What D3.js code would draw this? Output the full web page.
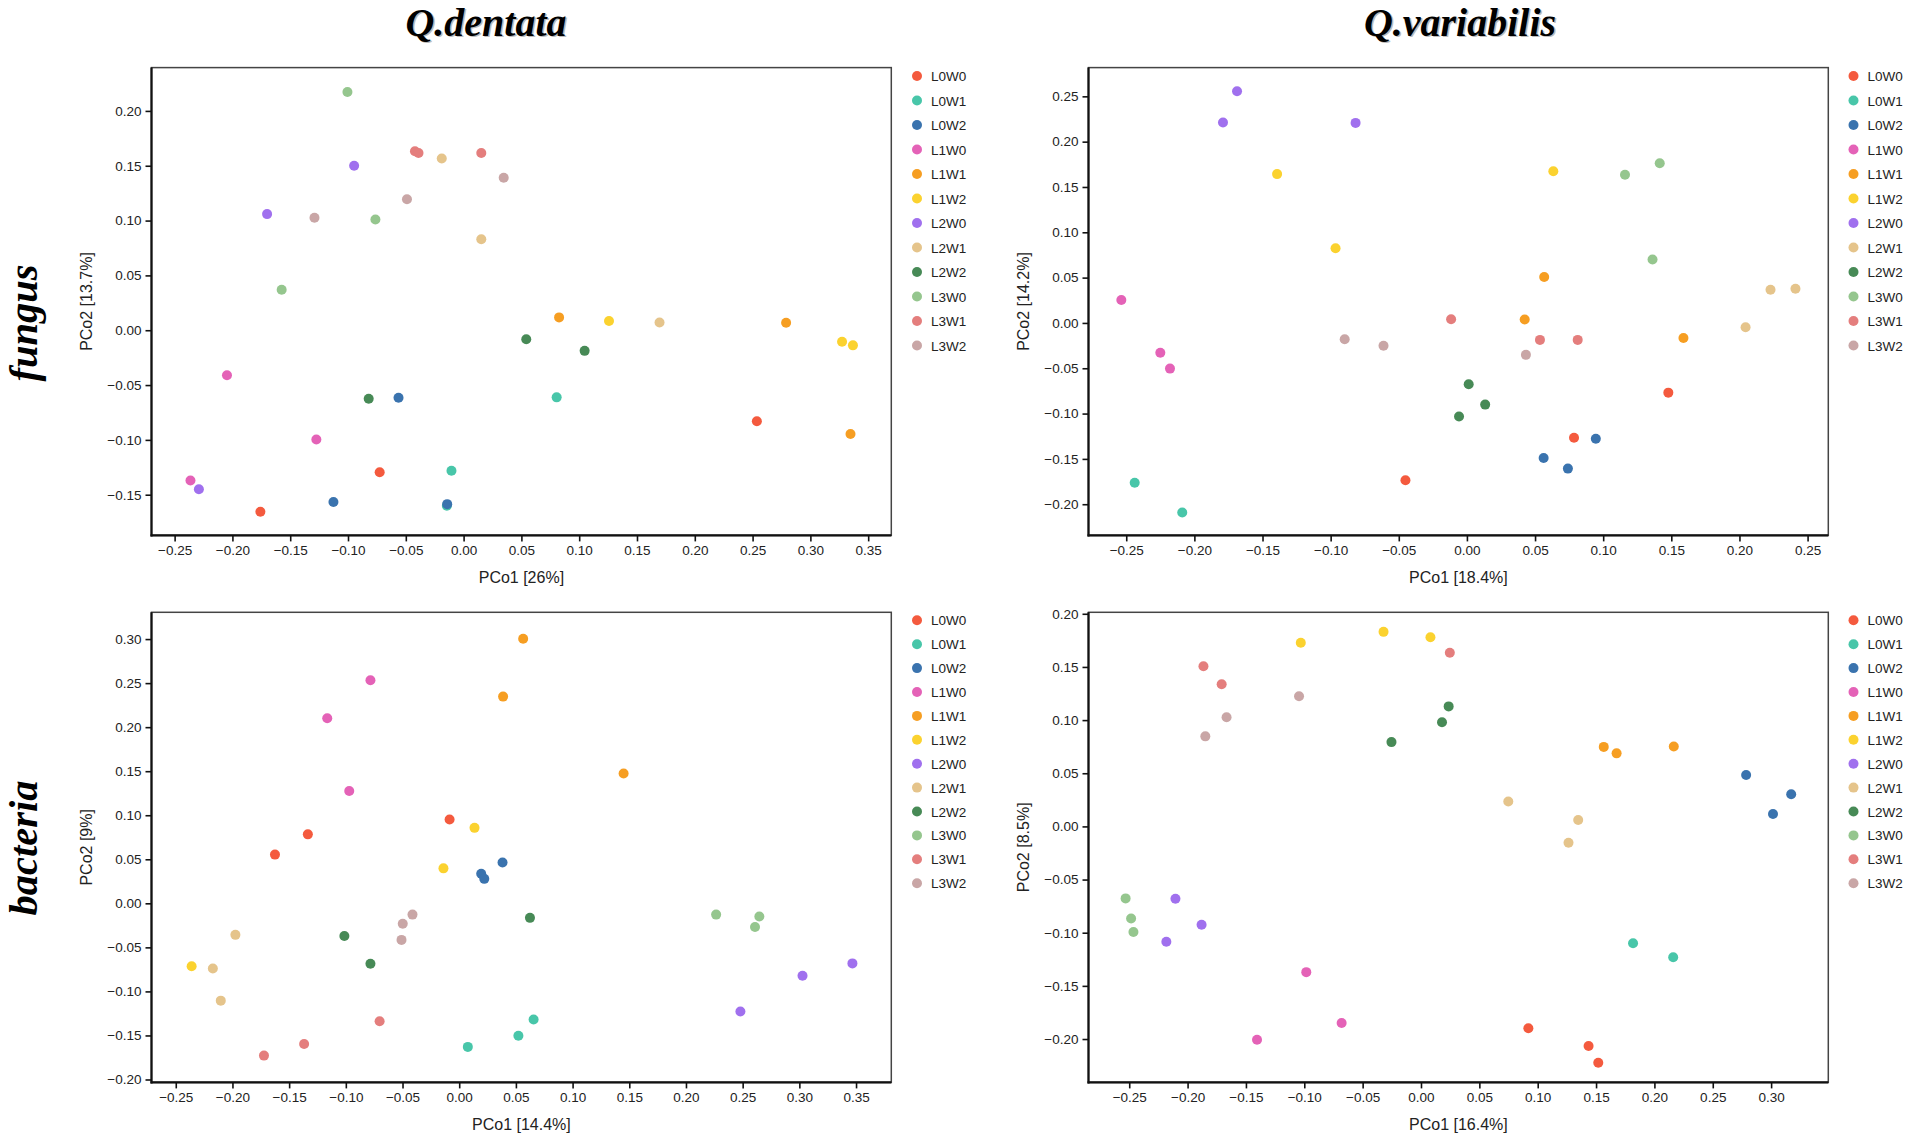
<!DOCTYPE html>
<html>
<head>
<meta charset="utf-8">
<script src="https://cdn.jsdelivr.net/npm/d3@7"></script>
<style>
  html, body { margin: 0; padding: 0; background: #fff; }
  svg { display: block; }
</style>
</head>
<body>
<svg id="chart" width="1908" height="1137"></svg>
<script>
// ---------------- DATA ----------------
const groups = ['L0W0','L0W1','L0W2','L1W0','L1W1','L1W2','L2W0','L2W1','L2W2','L3W0','L3W1','L3W2'];
const groupColors = ['#F45A3E','#48C6A9','#3A73AE','#E462B7','#F69E22','#FBD22F','#A070EE','#E5C48B','#478A56','#95C68E','#E47E7D','#C9A6A6'];

const columnTitles = ['Q.dentata', 'Q.variabilis'];
const rowTitles = ['fungus', 'bacteria'];

// [group, PCo1, PCo2]
const fungusDentata = [
  ['L0W0', 0.2537,-0.0830],['L0W0',-0.0726,-0.1295],['L0W0',-0.1758,-0.1656],
  ['L0W1', 0.0805,-0.0612],['L0W1',-0.0105,-0.1281],['L0W1',-0.0145,-0.1600],
  ['L0W2',-0.0563,-0.0615],['L0W2',-0.1126,-0.1566],['L0W2',-0.0142,-0.1586],
  ['L1W0',-0.2047,-0.0410],['L1W0',-0.1274,-0.0996],['L1W0',-0.2363,-0.1371],
  ['L1W1', 0.0826, 0.0117],['L1W1', 0.2790, 0.0068],['L1W1', 0.3347,-0.0947],
  ['L1W2', 0.1258, 0.0084],['L1W2', 0.3274,-0.0105],['L1W2', 0.3368,-0.0138],
  ['L2W0',-0.0947, 0.1500],['L2W0',-0.1700, 0.1059],['L2W0',-0.2290,-0.1450],
  ['L2W1',-0.0189, 0.1566],['L2W1', 0.0153, 0.0830],['L2W1', 0.1695, 0.0071],
  ['L2W2', 0.0542,-0.0082],['L2W2', 0.1047,-0.0188],['L2W2',-0.0821,-0.0625],
  ['L3W0',-0.1005, 0.2172],['L3W0',-0.0763, 0.1009],['L3W0',-0.1574, 0.0369],
  ['L3W1',-0.0421, 0.1632],['L3W1',-0.0390, 0.1616],['L3W1', 0.0153, 0.1616],
  ['L3W2', 0.0347, 0.1390],['L3W2',-0.0490, 0.1195],['L3W2',-0.1290, 0.1026]
];
const fungusVariabilis = [
  ['L0W0', 0.1478,-0.0769],['L0W0', 0.0786,-0.1266],['L0W0',-0.0451,-0.1735],
  ['L0W1',-0.2438,-0.1763],['L0W1',-0.2089,-0.2092],
  ['L0W2', 0.0946,-0.1278],['L0W2', 0.0563,-0.1491],['L0W2', 0.0741,-0.1607],
  ['L1W0',-0.2536, 0.0254],['L1W0',-0.2250,-0.0328],['L1W0',-0.2179,-0.0504],
  ['L1W1', 0.0567, 0.0507],['L1W1', 0.0424, 0.0037],['L1W1', 0.1589,-0.0167],
  ['L1W2',-0.1393, 0.1642],['L1W2', 0.0634, 0.1674],['L1W2',-0.0964, 0.0823],
  ['L2W0',-0.1687, 0.2556],['L2W0',-0.1790, 0.2211],['L2W0',-0.0817, 0.2207],
  ['L2W1', 0.2228, 0.0366],['L2W1', 0.2411, 0.0378],['L2W1', 0.2045,-0.0047],
  ['L2W2', 0.0013,-0.0677],['L2W2', 0.0134,-0.0901],['L2W2',-0.0058,-0.1033],
  ['L3W0', 0.1415, 0.1762],['L3W0', 0.1160, 0.1634],['L3W0', 0.1362, 0.0700],
  ['L3W1',-0.0116, 0.0041],['L3W1', 0.0536,-0.0187],['L3W1', 0.0813,-0.0187],
  ['L3W2',-0.0897,-0.0179],['L3W2',-0.0612,-0.0251],['L3W2', 0.0433,-0.0352]
];
const bacteriaDentata = [
  ['L0W0',-0.0085, 0.0952],['L0W0',-0.1335, 0.0783],['L0W0',-0.1625, 0.0553],
  ['L0W1', 0.0656,-0.1319],['L0W1', 0.0522,-0.1503],['L0W1', 0.0076,-0.1630],
  ['L0W2', 0.0382, 0.0463],['L0W2', 0.0194, 0.0336],['L0W2', 0.0221, 0.0278],
  ['L1W0',-0.0783, 0.2532],['L1W0',-0.1164, 0.2101],['L1W0',-0.0970, 0.1276],
  ['L1W1', 0.0564, 0.3004],['L1W1', 0.0387, 0.2347],['L1W1', 0.1450, 0.1473],
  ['L1W2', 0.0135, 0.0857],['L1W2',-0.0139, 0.0397],['L1W2',-0.2360,-0.0715],
  ['L2W0', 0.3468,-0.0682],['L2W0', 0.3028,-0.0822],['L2W0', 0.2480,-0.1228],
  ['L2W1',-0.1974,-0.0358],['L2W1',-0.2173,-0.0740],['L2W1',-0.2103,-0.1105],
  ['L2W2', 0.0624,-0.0165],['L2W2',-0.1013,-0.0370],['L2W2',-0.0783,-0.0686],
  ['L3W0', 0.2266,-0.0128],['L3W0', 0.2647,-0.0149],['L3W0', 0.2609,-0.0268],
  ['L3W1',-0.0702,-0.1339],['L3W1',-0.1368,-0.1598],['L3W1',-0.1722,-0.1729],
  ['L3W2',-0.0412,-0.0128],['L3W2',-0.0498,-0.0231],['L3W2',-0.0509,-0.0415]
];
const bacteriaVariabilis = [
  ['L0W0', 0.0920,-0.1898],['L0W0', 0.1436,-0.2065],['L0W0', 0.1519,-0.2224],
  ['L0W1', 0.1817,-0.1099],['L0W1', 0.2161,-0.1231],
  ['L0W2', 0.2786, 0.0483],['L0W2', 0.3172, 0.0303],['L0W2', 0.3016, 0.0116],
  ['L1W0',-0.0983,-0.1371],['L1W0',-0.0680,-0.1850],['L1W0',-0.1405,-0.2007],
  ['L1W1', 0.1566, 0.0748],['L1W1', 0.1676, 0.0687],['L1W1', 0.2166, 0.0752],
  ['L1W2',-0.0321, 0.1830],['L1W2', 0.0081, 0.1779],['L1W2',-0.1030, 0.1728],
  ['L2W0',-0.2104,-0.0680],['L2W0',-0.1880,-0.0925],['L2W0',-0.2182,-0.1085],
  ['L2W1', 0.0748, 0.0235],['L2W1', 0.1347, 0.0061],['L2W1', 0.1264,-0.0153],
  ['L2W2', 0.0237, 0.1129],['L2W2', 0.0180, 0.0980],['L2W2',-0.0253, 0.0793],
  ['L3W0',-0.2531,-0.0677],['L3W0',-0.2484,-0.0867],['L3W0',-0.2464,-0.0993],
  ['L3W1', 0.0247, 0.1633],['L3W1',-0.1864, 0.1507],['L3W1',-0.1708, 0.1337],
  ['L3W2',-0.1045, 0.1224],['L3W2',-0.1666, 0.1027],['L3W2',-0.1848, 0.0847]
];

const xAxisTitles = ['PCo1 [26%]', 'PCo1 [18.4%]', 'PCo1 [14.4%]', 'PCo1 [16.4%]'];
const yAxisTitles = ['PCo2 [13.7%]', 'PCo2 [14.2%]', 'PCo2 [9%]', 'PCo2 [8.5%]'];
// tick values (in hundredths)
const xTicksFD = [-25,-20,-15,-10,-5,0,5,10,15,20,25,30,35];
const yTicksFD = [-15,-10,-5,0,5,10,15,20];
const xTicksFV = [-25,-20,-15,-10,-5,0,5,10,15,20,25];
const yTicksFV = [-20,-15,-10,-5,0,5,10,15,20,25];
const xTicksBD = [-25,-20,-15,-10,-5,0,5,10,15,20,25,30,35];
const yTicksBD = [-20,-15,-10,-5,0,5,10,15,20,25,30];
const xTicksBV = [-25,-20,-15,-10,-5,0,5,10,15,20,25,30];
const yTicksBV = [-20,-15,-10,-5,0,5,10,15,20];

// ---------------- LAYOUT ----------------
const panels = [
  {data: fungusDentata, xT: xTicksFD, yT: yTicksFD, xTitle: xAxisTitles[0], yTitle: yAxisTitles[0],
   left: 151.5, right: 891.3, top: 67.6, bottom: 535.4, xDom: [-0.2700, 0.3700], yDom: [-0.1871, 0.2395],
   legX: 917, legY: 76, legStep: 24.5},
  {data: fungusVariabilis, xT: xTicksFV, yT: yTicksFV, xTitle: xAxisTitles[1], yTitle: yAxisTitles[1],
   left: 1088.5, right: 1828.3, top: 67.6, bottom: 535.4, xDom: [-0.2777, 0.2652], yDom: [-0.2344, 0.2817],
   legX: 1853.5, legY: 76, legStep: 24.5},
  {data: bacteriaDentata, xT: xTicksBD, yT: yTicksBD, xTitle: xAxisTitles[2], yTitle: yAxisTitles[2],
   left: 151.5, right: 891.3, top: 612.3, bottom: 1082.4, xDom: [-0.2714, 0.3811], yDom: [-0.2033, 0.3304],
   legX: 917, legY: 620.3, legStep: 23.9},
  {data: bacteriaVariabilis, xT: xTicksBV, yT: yTicksBV, xTitle: xAxisTitles[3], yTitle: yAxisTitles[3],
   left: 1088.5, right: 1828.3, top: 612.3, bottom: 1082.4, xDom: [-0.2849, 0.3490], yDom: [-0.2408, 0.2014],
   legX: 1853.5, legY: 620.3, legStep: 23.9}
];

const sans = "'Liberation Sans', Arial, Helvetica, sans-serif";
const serif = "'Liberation Serif', 'Times New Roman', serif";
const color = d3.scaleOrdinal().domain(groups).range(groupColors);
const fmt = d3.format('.2f');

const svg = d3.select('#chart');

// column titles (with soft shadow)
const colTitlePos = [[486, 35.5], [1460, 35.5]];
columnTitles.forEach((t, i) => {
  [['#bbb', 1.5, 1.5], ['#000', 0, 0]].forEach(([c, dx, dy]) => {
    svg.append('text').attr('x', colTitlePos[i][0] + dx).attr('y', colTitlePos[i][1] + dy)
      .attr('text-anchor', 'middle').attr('font-family', serif).attr('font-weight', 'bold')
      .attr('font-style', 'italic').attr('font-size', 40).attr('fill', c).text(t);
  });
});

// row titles
const rowTitlePos = [[37, 323], [37, 848]];
rowTitles.forEach((t, i) => {
  svg.append('text').attr('transform', `translate(${rowTitlePos[i][0]},${rowTitlePos[i][1]}) rotate(-90)`)
    .attr('text-anchor', 'middle').attr('font-family', serif).attr('font-weight', 'bold')
    .attr('font-style', 'italic').attr('font-size', 40.5).attr('fill', '#000').text(t);
});

panels.forEach(p => {
  const x = d3.scaleLinear().domain(p.xDom).range([p.left, p.right]);
  const y = d3.scaleLinear().domain(p.yDom).range([p.bottom, p.top]);
  const g = svg.append('g');

  // frame
  g.append('rect').attr('x', p.left).attr('y', p.top)
    .attr('width', p.right - p.left).attr('height', p.bottom - p.top)
    .attr('fill', 'none').attr('stroke', '#444').attr('stroke-width', 1.5);

  // axes
  const xAxis = d3.axisBottom(x).tickValues(p.xT.map(v => v / 100)).tickFormat(fmt)
    .tickSizeInner(6).tickSizeOuter(0).tickPadding(4);
  const yAxis = d3.axisLeft(y).tickValues(p.yT.map(v => v / 100)).tickFormat(fmt)
    .tickSizeInner(6).tickSizeOuter(0).tickPadding(4);

  const gx = g.append('g').attr('transform', `translate(0,${p.bottom})`).call(xAxis);
  const gy = g.append('g').attr('transform', `translate(${p.left},0)`).call(yAxis);
  [gx, gy].forEach(ax => {
    ax.select('.domain').attr('stroke', '#111').attr('stroke-width', 2.2);
    ax.selectAll('.tick line').attr('stroke', '#111').attr('stroke-width', 1.6);
    ax.selectAll('.tick text').attr('font-family', sans).attr('font-size', 13.5).attr('fill', '#222');
  });
  gx.select('.domain').attr('d', `M${p.left - 1},0H${p.right}`);
  gy.select('.domain').attr('d', `M0,${p.top}V${p.bottom + 1}`);

  // axis titles
  g.append('text').attr('x', (p.left + p.right) / 2).attr('y', p.bottom + 48)
    .attr('text-anchor', 'middle').attr('font-family', sans).attr('font-size', 16)
    .attr('fill', '#222').text(p.xTitle);
  g.append('text')
    .attr('transform', `translate(${p.left - 60},${(p.top + p.bottom) / 2}) rotate(-90)`)
    .attr('text-anchor', 'middle').attr('font-family', sans).attr('font-size', 16)
    .attr('fill', '#222').text(p.yTitle);

  // points
  g.append('g').selectAll('circle')
    .data(p.data.slice().sort((a, b) => groups.indexOf(a[0]) - groups.indexOf(b[0])))
    .join('circle')
    .attr('cx', d => x(d[1])).attr('cy', d => y(d[2])).attr('r', 5)
    .attr('fill', d => color(d[0]));

  // legend
  const leg = g.append('g');
  const items = leg.selectAll('g').data(groups).join('g')
    .attr('transform', (d, i) => `translate(${p.legX},${p.legY + i * p.legStep})`);
  items.append('circle').attr('r', 5).attr('fill', d => color(d));
  items.append('text').attr('x', 14).attr('y', 5).attr('font-family', sans)
    .attr('font-size', 13.5).attr('fill', '#222').text(d => d);
});
</script>
</body>
</html>
